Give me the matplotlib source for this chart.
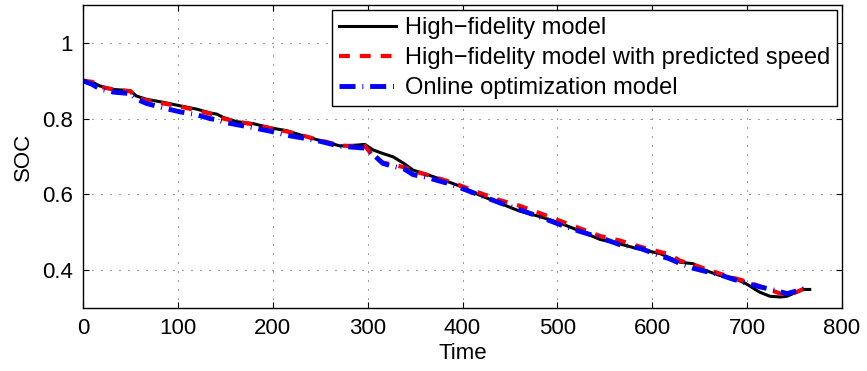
import numpy as np
import matplotlib
matplotlib.use("Agg")
import matplotlib.pyplot as plt

plt.rcParams['font.family'] = ['Liberation Sans', 'DejaVu Sans']

# time stamps and SOC traces
time = [0, 10, 18, 32, 50, 56, 67, 85, 102, 120, 134, 141, 148, 162, 179,
        197, 215, 229, 250, 271, 288, 297, 306, 316, 327, 338, 348, 362, 383,
        397, 418, 439, 460, 482, 503, 524, 545, 566, 587, 608, 618, 629, 643,
        654, 671, 685, 699, 713, 724, 735, 742, 752, 759, 766]

soc_hifi = [0.900, 0.896, 0.886, 0.877, 0.874, 0.860, 0.851, 0.843, 0.834,
            0.825, 0.815, 0.812, 0.803, 0.792, 0.787, 0.776, 0.768, 0.757,
            0.742, 0.728, 0.730, 0.732, 0.717, 0.708, 0.699, 0.682, 0.664,
            0.653, 0.635, 0.622, 0.598, 0.577, 0.556, 0.541, 0.524, 0.503,
            0.481, 0.469, 0.455, 0.444, 0.433, 0.421, 0.417, 0.401, 0.386,
            0.380, 0.364, 0.342, 0.331, 0.329, 0.331, 0.342, 0.349, 0.349]

soc_pred = [0.900, 0.897, 0.884, 0.877, 0.872, 0.855, 0.848, 0.840, 0.832,
            0.822, 0.813, 0.809, 0.800, 0.792, 0.785, 0.775, 0.766, 0.757,
            0.743, 0.729, 0.727, 0.728, 0.700, 0.684, 0.678, 0.672, 0.662,
            0.652, 0.636, 0.624, 0.604, 0.585, 0.570, 0.550, 0.530, 0.510,
            0.490, 0.478, 0.462, 0.448, 0.442, 0.425, 0.415, 0.405, 0.391,
            0.380, 0.370, 0.358, 0.348, 0.338, 0.334, 0.342, 0.350, 0.351]

soc_online = [0.900, 0.890, 0.878, 0.870, 0.866, 0.852, 0.840, 0.828, 0.818,
              0.810, 0.800, 0.797, 0.791, 0.784, 0.776, 0.767, 0.756, 0.750,
              0.740, 0.727, 0.724, 0.722, 0.705, 0.682, 0.674, 0.668, 0.652,
              0.645, 0.630, 0.618, 0.598, 0.578, 0.560, 0.540, 0.520, 0.502,
              0.486, 0.467, 0.458, 0.438, 0.430, 0.418, 0.405, 0.398, 0.388,
              0.376, 0.366, 0.356, 0.350, 0.343, 0.338, 0.345, 0.350, 0.352]

labels = ['High\u2212fidelity model',
          'High\u2212fidelity model with predicted speed',
          'Online optimization model']

fig = plt.figure(figsize=(8.67, 3.71), dpi=100)
ax = fig.add_axes([0.0957, 0.1698, 0.8755, 0.8167])

ax.plot(time, soc_hifi, color='black', lw=2.2, label=labels[0])
ax.plot(time, soc_pred, color='red', lw=3.0, dashes=(2.6, 2.4), label=labels[1])
ax.plot(time, soc_online, color='blue', lw=3.5, dashes=(3.3, 1.4, 0.2, 1.4),
        label=labels[2])

ax.set_xlim(0, 800)
ax.set_ylim(0.3, 1.1)
ax.set_xticks(np.arange(0, 801, 100))
ax.set_yticks([0.4, 0.6, 0.8, 1.0])
ax.set_yticklabels(['0.4', '0.6', '0.8', '1'])
ax.grid(True, color='0.25', lw=0.72, linestyle=(0, (1, 8)))
ax.tick_params(direction='in', top=True, right=True, length=4, width=0.8,
               labelsize=16, pad=7)
for sp in ax.spines.values():
    sp.set_linewidth(1.0)

ax.set_xlabel('Time', fontsize=16, labelpad=3)
ax.set_ylabel('SOC', fontsize=16, labelpad=6)

leg = ax.legend(loc='upper right', fontsize=17, fancybox=False,
                edgecolor='black', framealpha=1, borderaxespad=0.2,
                handlelength=2.4, handletextpad=0.4, labelspacing=0.35,
                borderpad=0.3)
leg.get_frame().set_linewidth(1.0)

fig.savefig('out.png', dpi=100)
